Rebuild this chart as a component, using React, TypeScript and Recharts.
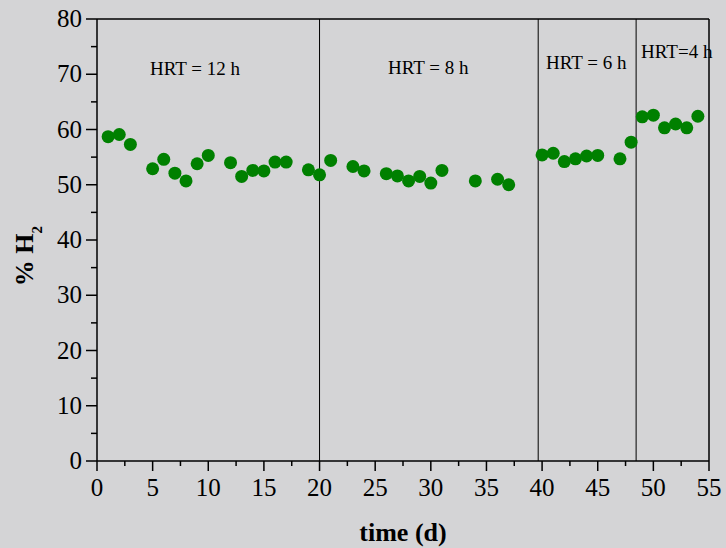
import React from "react";
import {
  ScatterChart,
  Scatter,
  XAxis,
  YAxis,
  ReferenceLine,
  ReferenceDot,
} from "recharts";

// days of operation and measured % H2
const days = [
  1, 2, 3, 5, 6, 7, 8, 9, 10, 12, 13, 14, 15, 16, 17, 19, 20, 21, 23, 24, 26,
  27, 28, 29, 30, 31, 34, 36, 37, 40, 41, 42, 43, 44, 45, 47, 48, 49, 50, 51,
  52, 53, 54,
];
const h2 = [
  58.7, 59.1, 57.3, 52.9, 54.6, 52.1, 50.7, 53.8, 55.3, 54.0, 51.5, 52.6, 52.5,
  54.1, 54.1, 52.7, 51.8, 54.4, 53.3, 52.5, 52.0, 51.6, 50.7, 51.5, 50.3, 52.6,
  50.7, 51.0, 50.0, 55.4, 55.7, 54.2, 54.7, 55.2, 55.3, 54.7, 57.7, 62.3, 62.6,
  60.3, 61.0, 60.3, 62.4,
];

// HRT change days
const hrtChanges = [20, 39.65, 48.45];
const hrtLabels = ["HRT = 12 h", "HRT = 8 h", "HRT = 6 h", "HRT=4 h"];
const hrtLabelX = [4.76, 26.15, 40.35, 48.9];
const hrtLabelY = [69.9, 70.1, 70.95, 73.0];

const xTicks = [
  0, 2.5, 5, 7.5, 10, 12.5, 15, 17.5, 20, 22.5, 25, 27.5, 30, 32.5, 35, 37.5,
  40, 42.5, 45, 47.5, 50, 52.5, 55,
];
const yTicks = [0, 5, 10, 15, 20, 25, 30, 35, 40, 45, 50, 55, 60, 65, 70, 75, 80];

const points = days.map((d, i) => ({ day: d, h2: h2[i] }));

const FONT = '"Liberation Serif", "Times New Roman", serif';

const XTick = (props: any) => {
  const { x, y, payload } = props;
  const major = payload.value % 5 === 0;
  return (
    <g>
      <line x1={x} y1={y} x2={x} y2={y + (major ? 10 : 5)} stroke="#000" strokeWidth={1.5} />
      {major && (
        <text x={x} y={y + 35} textAnchor="middle" fontSize={25} fontFamily={FONT} fill="#000">
          {payload.value}
        </text>
      )}
    </g>
  );
};

const YTick = (props: any) => {
  const { x, y, payload } = props;
  const major = payload.value % 10 === 0;
  return (
    <g>
      <line x1={x - (major ? 11 : 6)} y1={y} x2={x} y2={y} stroke="#000" strokeWidth={1.5} />
      {major && (
        <text x={x - 15} y={y + 8} textAnchor="end" fontSize={25} fontFamily={FONT} fill="#000">
          {payload.value}
        </text>
      )}
    </g>
  );
};

const Dot = (props: any) => (
  <circle cx={props.cx} cy={props.cy} r={6.5} fill="#008000" />
);

const hrtText = (text: string) => {
  const L = (props: any) => {
    const vb = props.viewBox || {};
    return (
      <text x={vb.x} y={vb.y} fontSize={19} fontFamily={FONT} fill="#000">
        {text}
      </text>
    );
  };
  return L;
};

export default function App() {
  return (
    <div
      style={{
        position: "absolute",
        left: 0,
        top: 0,
        width: 726,
        height: 548,
        background: "#d4d4d6",
      }}
    >
      <ScatterChart
        width={726}
        height={548}
        margin={{ top: 19, right: 17, left: 0, bottom: 0 }}
      >
        <XAxis
          type="number"
          dataKey="day"
          domain={[0, 55]}
          ticks={xTicks}
          interval={0}
          height={87}
          tickSize={0}
          tickMargin={0}
          tickLine={false}
          tick={<XTick />}
          axisLine={{ stroke: "#000", strokeWidth: 1.5 }}
          label={{
            content: (p: any) => {
              const vb = p.viewBox;
              return (
                <text
                  x={vb.x + vb.width / 2}
                  y={vb.y + 80}
                  textAnchor="middle"
                  fontSize={26}
                  fontWeight="bold"
                  fontFamily={FONT}
                  fill="#000"
                >
                  time (d)
                </text>
              );
            },
          }}
        />
        <YAxis
          type="number"
          dataKey="h2"
          domain={[0, 80]}
          ticks={yTicks}
          interval={0}
          width={97}
          tickSize={0}
          tickMargin={0}
          tickLine={false}
          tick={<YTick />}
          axisLine={{ stroke: "#000", strokeWidth: 1.5 }}
          label={{
            content: (p: any) => {
              const vb = p.viewBox;
              const cx = vb.x + 33;
              const cy = vb.y + vb.height / 2 + 16;
              return (
                <text
                  x={cx}
                  y={cy}
                  transform={`rotate(-90, ${cx}, ${cy})`}
                  textAnchor="middle"
                  fontSize={26}
                  fontWeight="bold"
                  fontFamily={FONT}
                  fill="#000"
                >
                  % H
                  <tspan fontSize={15} dy={9}>
                    2
                  </tspan>
                </text>
              );
            },
          }}
        />
        <ReferenceLine y={80} stroke="#000" strokeWidth={1.5} />
        <ReferenceLine x={55} stroke="#000" strokeWidth={1.5} />
        {hrtChanges.map((d) => (
          <ReferenceLine key={d} x={d} stroke="#000" strokeWidth={1} />
        ))}
        {hrtLabels.map((t, i) => (
          <ReferenceDot
            key={t}
            x={hrtLabelX[i]}
            y={hrtLabelY[i]}
            r={0}
            fill="none"
            stroke="none"
            ifOverflow="visible"
            label={hrtText(t)}
          />
        ))}
        <Scatter data={points} shape={Dot} isAnimationActive={false} />
      </ScatterChart>
    </div>
  );
}
